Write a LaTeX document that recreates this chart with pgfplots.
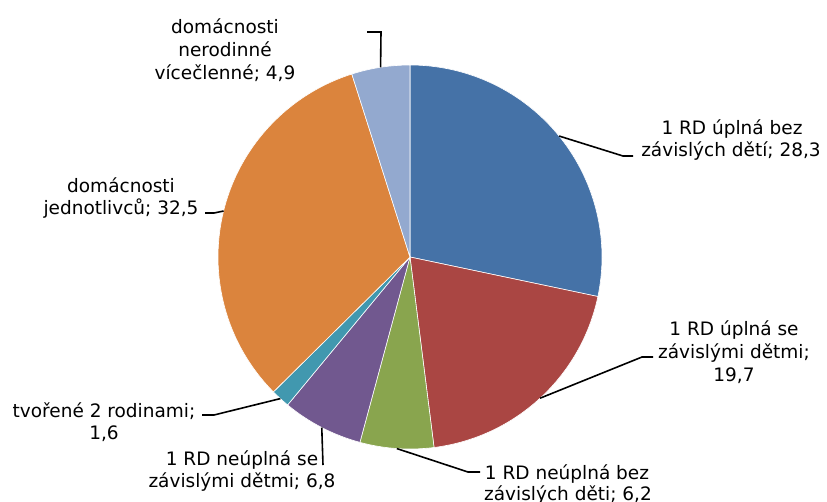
\documentclass[border=0pt]{standalone}
\usepackage{pgfplots}
\pgfplotsset{compat=1.18}
\usepackage{fontspec}
\setmainfont{DejaVu Sans}
\definecolor{cA}{HTML}{4572A7}
\definecolor{cB}{HTML}{AA4643}
\definecolor{cC}{HTML}{89A54E}
\definecolor{cD}{HTML}{71588F}
\definecolor{cE}{HTML}{4198AF}
\definecolor{cF}{HTML}{DB843D}
\definecolor{cG}{HTML}{93A9CF}
% \pieslice{value in %}{colour}{rest of leader line}
\newcommand{\pieslice}[3]{%
  \pgfmathsetmacro\sa{90-3.6*\cum}%
  \pgfmathsetmacro\ea{90-3.6*(\cum+#1)}%
  \pgfmathsetmacro\ma{90-3.6*(\cum+#1/2)}%
  \pgfmathsetmacro\newcum{\cum+#1}%
  \xdef\cum{\newcum}%
  \edef\temp{\noexpand\fill[#2, draw=white, line width=0.6pt] (axis cs:410,257) -- ++(\sa:192pt) arc[start angle=\sa, end angle=\ea, radius=192pt] -- cycle;
    \noexpand\draw[black, line width=1.6pt] (axis cs:410,257) ++(\ma:192pt) #3;}%
  \temp}
\begin{document}
\begin{tikzpicture}
\begin{axis}[
  xmin=0, xmax=827, ymin=0, ymax=501, y dir=reverse,
  width=827pt, height=501pt, scale only axis, hide axis, clip=true,
]
\gdef\cum{0}
\pieslice{28.3}{cA}{-- (axis cs:623,156) -- (axis cs:633,156)}
\pieslice{19.7}{cB}{-- (axis cs:642,357) -- (axis cs:653,357)}
\pieslice{6.2}{cC}{-- (axis cs:468,472) -- (axis cs:480,472)}
\pieslice{6.8}{cD}{-- (axis cs:323,465)}
\pieslice{1.6}{cE}{-- (axis cs:214,415) -- (axis cs:202,415)}
\pieslice{32.5}{cF}{-- (axis cs:214,213) -- (axis cs:205,213)}
\pieslice{4.9}{cG}{-- (axis cs:381,32) -- (axis cs:367,32)}
\begin{scope}[every node/.style={anchor=base, inner sep=0pt, font=\fontsize{18.5}{22.5}\selectfont}]
\node at (axis cs:225,33) {domácnosti};
\node at (axis cs:225,56) {nerodinné};
\node at (axis cs:225,79) {vícečlenné; 4,9};
\node at (axis cs:732,134) {1 RD úplná bez};
\node at (axis cs:731,156) {závislých dětí; 28,3};
\node at (axis cs:734,335) {1 RD úplná se};
\node at (axis cs:734,358) {závislými dětmi;};
\node at (axis cs:734,381) {19,7};
\node at (axis cs:121,192) {domácnosti};
\node at (axis cs:121,214) {jednotlivců; 32,5};
\node at (axis cs:104,417) {tvořené 2 rodinami;};
\node at (axis cs:104,439) {1,6};
\node at (axis cs:242,465) {1 RD neúplná se};
\node at (axis cs:242,487) {závislými dětmi; 6,8};
\node at (axis cs:567,479) {1 RD neúplná bez};
\node at (axis cs:568,500) {závislých děti; 6,2};
\end{scope}
\end{axis}
\pgfresetboundingbox
\path (0,0) rectangle (827pt,501pt);
\end{tikzpicture}
\end{document}
